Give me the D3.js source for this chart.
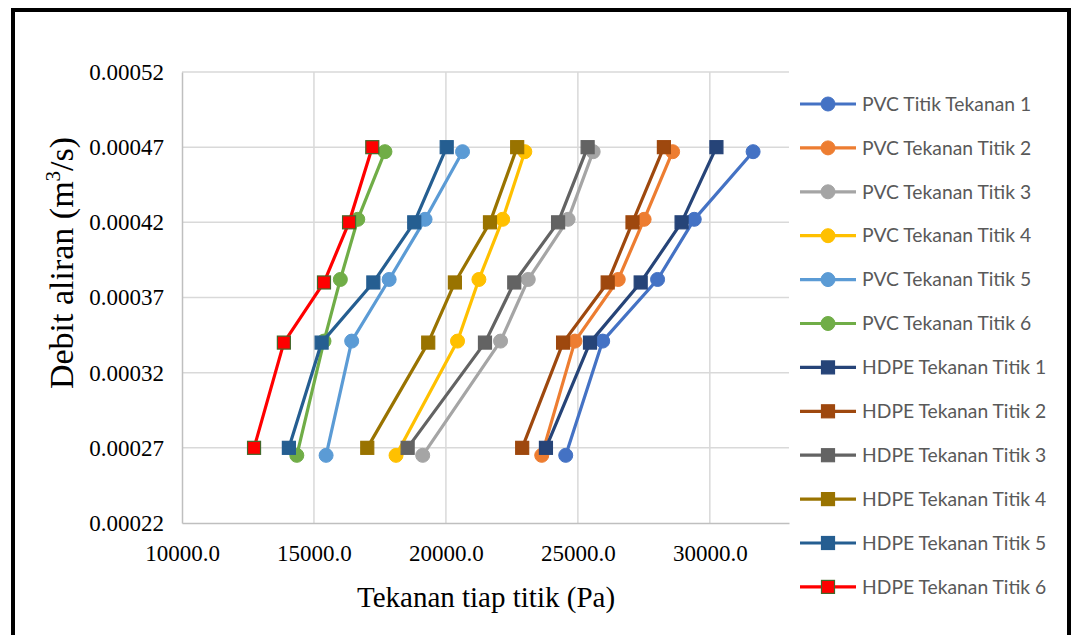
<!DOCTYPE html>
<html>
<head>
<meta charset="utf-8">
<script src="https://cdn.jsdelivr.net/npm/d3@7"></script>
<style>
  html, body { margin: 0; padding: 0; background: #fff; }
  svg { display: block; }
</style>
</head>
<body>
<svg id="chart" width="1071" height="635"></svg>
<script>
// ---- Data ----
const flowPVC  = [0.000265, 0.000341, 0.000382, 0.000422, 0.000467];
const flowHDPE = [0.00027, 0.00034, 0.00038, 0.00042, 0.00047];

const pvc1 = [24540, 25940, 28020, 29410, 31640];
const pvc2 = [23630, 24890, 26530, 27510, 28590];
const pvc3 = [19120, 22070, 23120, 24630, 25580];
const pvc4 = [18110, 20440, 21250, 22150, 22990];
const pvc5 = [15460, 16430, 17850, 19210, 20630];
const pvc6 = [14350, 15380, 16000, 16660, 17690];

const hdpe1 = [23790, 25460, 27380, 28930, 30250];
const hdpe2 = [22890, 24440, 26130, 27070, 28260];
const hdpe3 = [18550, 21480, 22590, 24250, 25370];
const hdpe4 = [17020, 19330, 20340, 21670, 22700];
const hdpe5 = [14050, 15290, 17250, 18800, 20030];
const hdpe6 = [12730, 13860, 15380, 16330, 17210];

const seriesNames = [
  "PVC Titik Tekanan 1", "PVC Tekanan Titik 2", "PVC Tekanan Titik 3",
  "PVC Tekanan Titik 4", "PVC Tekanan Titik 5", "PVC Tekanan Titik 6",
  "HDPE Tekanan Titik 1", "HDPE Tekanan Titik 2", "HDPE Tekanan Titik 3",
  "HDPE Tekanan Titik 4", "HDPE Tekanan Titik 5", "HDPE Tekanan Titik 6"
];
const seriesValues = [pvc1, pvc2, pvc3, pvc4, pvc5, pvc6, hdpe1, hdpe2, hdpe3, hdpe4, hdpe5, hdpe6];
const seriesFlows = [flowPVC, flowPVC, flowPVC, flowPVC, flowPVC, flowPVC, flowHDPE, flowHDPE, flowHDPE, flowHDPE, flowHDPE, flowHDPE];
const seriesColors = ["#4472C4", "#ED7D31", "#A5A5A5", "#FFC000", "#5B9BD5", "#70AD47",
                      "#264478", "#9E480E", "#636363", "#997300", "#255E91", "#FF0000"];
const markerStroke = ["#4472C4", "#ED7D31", "#A5A5A5", "#FFC000", "#5B9BD5", "#70AD47",
                      "#264478", "#9E480E", "#636363", "#997300", "#255E91", "#43682B"];
const markerShape = ["circle","circle","circle","circle","circle","circle",
                     "square","square","square","square","square","square"];

const xTicks = [10000, 15000, 20000, 25000, 30000];
const yTicks = [0.00022, 0.00027, 0.00032, 0.00037, 0.00042, 0.00047, 0.00052];
const xDomain = [10000, 33000];
const yDomain = [0.00022, 0.00052];

const xTitle = "Tekanan tiap titik (Pa)";

// ---- Layout ----
const svg = d3.select("#chart");
const plot = { left: 182, right: 789, top: 72, bottom: 523 };

// frame
svg.append("rect")
  .attr("x", 13).attr("y", 10)
  .attr("width", 1056).attr("height", 1000)
  .attr("fill", "none").attr("stroke", "#000").attr("stroke-width", 4);

const x = d3.scaleLinear().domain(xDomain).range([plot.left, plot.right]);
const y = d3.scaleLinear().domain(yDomain).range([plot.bottom, plot.top]);

// gridlines
const grid = svg.append("g");
grid.selectAll("line.v").data(xTicks.slice(1)).join("line")
  .attr("x1", d => x(d)).attr("x2", d => x(d))
  .attr("y1", plot.top).attr("y2", plot.bottom)
  .attr("stroke", "#d9d9d9").attr("stroke-width", 1.5);
grid.selectAll("line.h").data(yTicks.slice(1)).join("line")
  .attr("x1", plot.left).attr("x2", plot.right)
  .attr("y1", d => y(d)).attr("y2", d => y(d))
  .attr("stroke", "#d9d9d9").attr("stroke-width", 1.5);

// axes
const xAxis = d3.axisBottom(x).tickValues(xTicks).tickSize(0).tickPadding(22)
  .tickFormat(d3.format(".1f"));
const gx = svg.append("g").attr("transform", `translate(0,${plot.bottom})`).call(xAxis);
gx.select(".domain").attr("stroke", "#bfbfbf").attr("stroke-width", 1.5);
gx.selectAll("text").attr("font-family", "'Liberation Serif', 'Times New Roman', serif")
  .attr("font-size", 23).attr("fill", "#000");

const yAxis = d3.axisLeft(y).tickValues(yTicks).tickSize(0).tickPadding(18)
  .tickFormat(d3.format(".5f"));
const gy = svg.append("g").attr("transform", `translate(${plot.left},0)`).call(yAxis);
gy.select(".domain").attr("stroke", "#bfbfbf").attr("stroke-width", 1.5);
gy.selectAll("text").attr("font-family", "'Liberation Serif', 'Times New Roman', serif")
  .attr("font-size", 23).attr("fill", "#000");

// axis titles
svg.append("text")
  .attr("x", 486).attr("y", 607)
  .attr("text-anchor", "middle")
  .attr("font-family", "'Liberation Serif', 'Times New Roman', serif")
  .attr("font-size", 29).attr("fill", "#000")
  .text(xTitle);

const yt = svg.append("text")
  .attr("transform", "translate(73,263) rotate(-90)")
  .attr("text-anchor", "middle")
  .attr("font-family", "'Liberation Serif', 'Times New Roman', serif")
  .attr("font-size", 34).attr("fill", "#000");
yt.append("tspan").text("Debit aliran (m");
yt.append("tspan").attr("font-size", 21).attr("dy", -13).text("3");
yt.append("tspan").attr("dy", 13).text("/s)");

// series
const line = d3.line().x(d => x(d[0])).y(d => y(d[1]));
const series = seriesNames.map((name, i) => ({
  name, color: seriesColors[i], stroke: markerStroke[i], shape: markerShape[i],
  pts: seriesValues[i].map((v, j) => [v, seriesFlows[i][j]])
}));

const gS = svg.append("g");
series.forEach(s => {
  const g = gS.append("g");
  g.append("path").datum(s.pts)
    .attr("d", line).attr("fill", "none")
    .attr("stroke", s.color).attr("stroke-width", 3.2)
    .attr("stroke-linejoin", "round");
  if (s.shape === "circle") {
    g.selectAll("circle").data(s.pts).join("circle")
      .attr("cx", d => x(d[0])).attr("cy", d => y(d[1])).attr("r", 7)
      .attr("fill", s.color).attr("stroke", s.stroke).attr("stroke-width", 1);
  } else {
    g.selectAll("rect").data(s.pts).join("rect")
      .attr("x", d => x(d[0]) - 6.5).attr("y", d => y(d[1]) - 6.5)
      .attr("width", 13).attr("height", 13)
      .attr("fill", s.color).attr("stroke", s.stroke).attr("stroke-width", 1.2);
  }
});

// legend
const legend = svg.append("g");
series.forEach((s, i) => {
  const cy = 104 + i * 43.9;
  const g = legend.append("g");
  g.append("line").attr("x1", 800).attr("x2", 856).attr("y1", cy).attr("y2", cy)
    .attr("stroke", s.color).attr("stroke-width", 3.2);
  if (s.shape === "circle") {
    g.append("circle").attr("cx", 828).attr("cy", cy).attr("r", 7)
      .attr("fill", s.color).attr("stroke", s.stroke).attr("stroke-width", 1);
  } else {
    g.append("rect").attr("x", 828 - 6.5).attr("y", cy - 6.5)
      .attr("width", 13).attr("height", 13)
      .attr("fill", s.color).attr("stroke", s.stroke).attr("stroke-width", 1.2);
  }
  g.append("text").attr("x", 862).attr("y", cy).attr("dy", "0.35em")
    .attr("font-family", "Lato, 'Open Sans', sans-serif")
    .attr("font-size", 19.3).attr("fill", "#595959")
    .text(s.name);
});
</script>
</body>
</html>
